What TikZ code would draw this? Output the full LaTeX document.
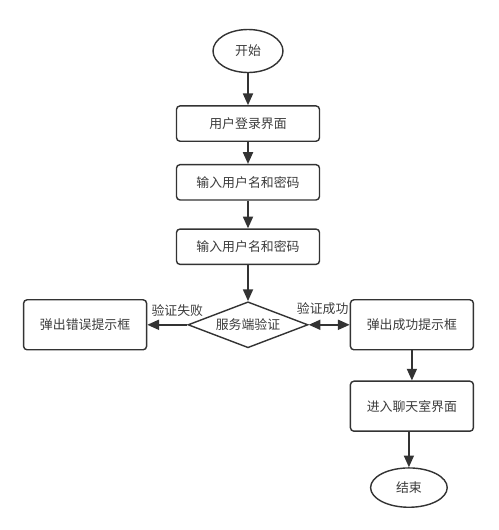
\documentclass[tikz,border=0pt]{standalone}
\usepackage{fontspec}
\setmainfont{Noto Sans CJK SC}
\usepackage{xcolor}
\usepackage{tikz}
\usetikzlibrary{shapes, arrows.meta, positioning, shapes.geometric}
\definecolor{darkline}{RGB}{51, 51, 51}
\definecolor{darktext}{RGB}{60, 60, 60}

\begin{document}
\begin{tikzpicture}[node distance=1cm, >={Triangle[length=10pt, width=8.5pt]},
    terminal/.style={ellipse, draw=darkline, line width=1.2pt, fill=white, inner sep=0pt, font=\fontsize{11}{13}\selectfont, text=darktext},
    process/.style={rectangle, draw=darkline, line width=1.2pt, fill=white, rounded corners=3pt, minimum width=4.29cm, minimum height=1.06cm, font=\fontsize{11}{13}\selectfont, text=darktext},
    popup/.style={process, minimum width=3.69cm, minimum height=1.5cm},
    decision/.style={diamond, draw=darkline, line width=1.2pt, fill=white, aspect=2.6, inner sep=0pt, minimum width=3.6cm, minimum height=1.38cm, font=\fontsize{11}{13}\selectfont, text=darktext},
    arrow/.style={line width=1.6pt, ->, color=darkline},
    darrow/.style={line width=1.6pt, <->, color=darkline},
    lbl/.style={font=\fontsize{11}{13}\selectfont, text=darktext, inner sep=0pt}]

    \useasboundingbox (0,0) rectangle (14.94,-15.9);

    % Start
    \node[terminal, minimum width=2.1cm, minimum height=1.29cm] (start) at (7.44,-1.53) {开始};

    % Login steps
    \node[process, below=0.96cm of start] (login) {用户登录界面};
    \node[process, below=0.66cm of login] (input1) {输入用户名和密码};
    \node[process, below=0.83cm of input1] (input2) {输入用户名和密码};

    % Server check
    \node[decision, below=1.08cm of input2] (verify) {服务端验证};

    % Results
    \node[popup, left=1.2cm of verify] (fail) {弹出错误提示框};
    \node[popup, right=1.23cm of verify] (ok) {弹出成功提示框};
    \node[popup, below=0.9cm of ok] (chat) {进入聊天室界面};

    % End
    \node[terminal, minimum width=2.3cm, minimum height=1.18cm, below=1.06cm of chat, xshift=-0.09cm] (finish) {结束};

    % Connections
    \draw[arrow] (start) -- (login);
    \draw[arrow] (login) -- (input1);
    \draw[arrow] (input1) -- (input2);
    \draw[arrow] (input2) -- (verify);
    \draw[arrow] (verify) -- node[lbl, pos=0.25, yshift=0.42cm] {验证失败} (fail);
    \draw[darrow] (verify) -- node[lbl, pos=0.34, yshift=0.48cm] {验证成功} (ok);
    \draw[arrow] (ok) -- (chat.north -| ok);
    \draw[arrow] (chat.south -| finish) -- (finish);
\end{tikzpicture}
\end{document}
